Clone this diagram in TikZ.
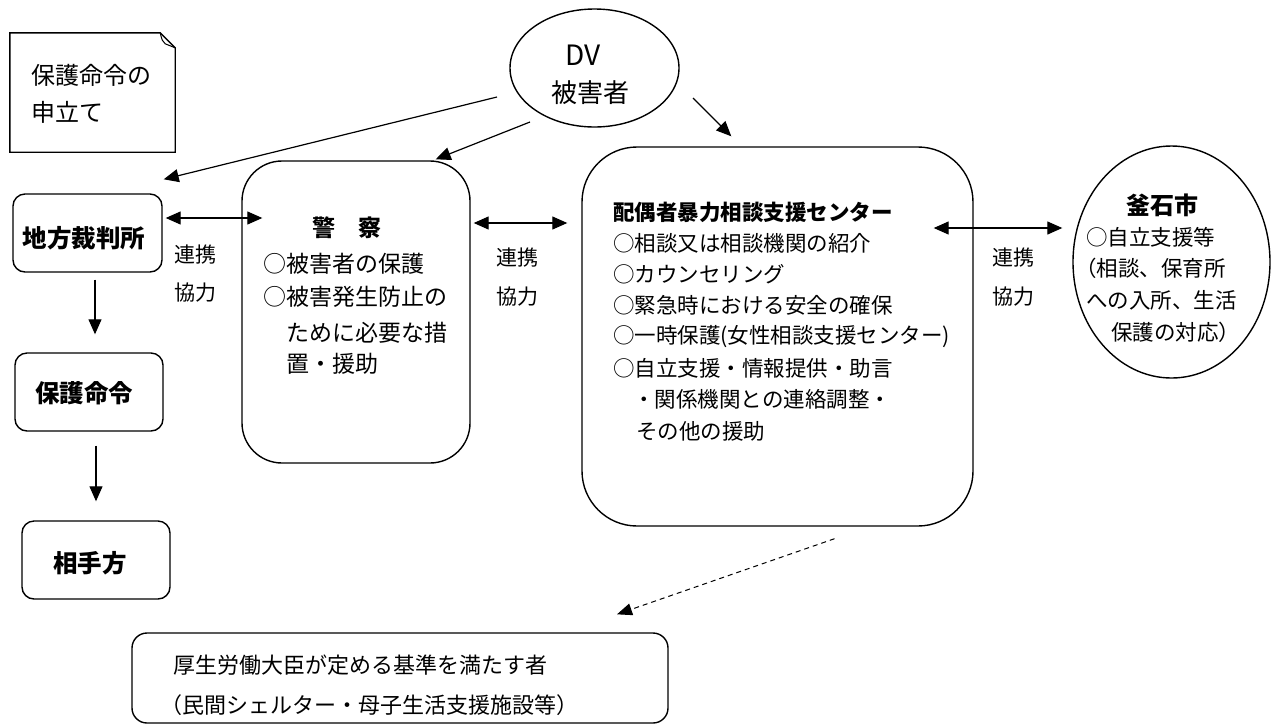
\documentclass[tikz,border=0pt]{standalone}
\usepackage{fontspec}
\setmainfont{Noto Sans CJK JP}
\usetikzlibrary{arrows.meta,calc,shapes.geometric}
\begin{document}
\begin{tikzpicture}[x=1pt,y=-1pt,
  box/.style={draw,line width=1.4pt,rounded corners=#1,inner sep=0},
  tip/.style={-{Triangle[length=15pt,width=13pt]}},
  arr/.style={line width=1.2pt,tip},
  darr/.style={line width=1.2pt,{Triangle[length=15pt,width=13pt]}-{Triangle[length=15pt,width=13pt]}},
  dsh/.style={line width=1pt,dash pattern=on 5pt off 4pt,-{Triangle[length=15pt,width=12pt]}},
  tx/.style={inner sep=0,anchor=west,font=\fontsize{#1}{#1}\selectfont},
  tc/.style={inner sep=0,font=\fontsize{#1}{#1}\selectfont},
  tb/.style={inner sep=0,font=\bfseries\fontsize{#1}{#1}\selectfont},
]
\useasboundingbox (0,0) rectangle (1279,724);
\fill[white] (0,0) rectangle (1279,724);

% note
\node[minimum width=165pt,minimum height=119pt,inner sep=0] (note) at (92.5,92.5) {};
\draw[line width=1.4pt] (note.south west) -- (note.north west) -- ($(note.north east)+(-15,0)$)
  -- ($(note.north east)+(0,15)$) -- (note.south east) -- cycle;
\draw[line width=1pt] ($(note.north east)+(-15,0)$) .. controls ($(note.north east)+(-13,8)$) .. ($(note.north east)+(-10,11)$) -- ($(note.north east)+(0,15)$);
\node[tx=24] (notet1) at (31,75) {保護命令の};
\node[tx=24] (notet2) at (31,112) {申立て};

% DV ellipse
\node[draw,ellipse,line width=1.4pt,minimum width=169pt,minimum height=118pt,inner sep=0] (dv) at (594.5,68) {};
\node[tc=28] (dvt1) at (583,55) {DV};
\node[tc=26] (dvt2) at (590,93) {被害者};

% left column
\node[box=12pt,minimum width=149pt,minimum height=78pt] (court) at (87.5,233) {};
\node[tb=24.5] (courtt) at (84,238) {地方裁判所};
\node[box=12pt,minimum width=148pt,minimum height=78pt] (order) at (89,392) {};
\node[tb=24.5] (ordert) at (84,393) {保護命令};
\node[box=12pt,minimum width=148pt,minimum height=78pt] (opp) at (96,560) {};
\node[tb=24.5] (oppt) at (90,563) {相手方};

% police
\node[box=40pt,minimum width=228pt,minimum height=302pt] (police) at (356,312) {};
\node[tb=23] (policet) at (347,228) {警　察};
\node[tx=23] (p1) at (263,264) {○被害者の保護};
\node[tx=23] (p2) at (263,297) {○被害発生防止の};
\node[tx=23] (p3) at (286,333) {ために必要な措};
\node[tx=23] (p4) at (286,364) {置・援助};

% center
\node[box=55pt,minimum width=391pt,minimum height=379pt] (center) at (777.5,336.5) {};
\node[tb=21.5,anchor=west] (ct) at (613,212) {配偶者暴力相談支援センター};
\node[tx=21.5] (c1) at (613,243) {○相談又は相談機関の紹介};
\node[tx=21.5] (c2) at (613,274) {○カウンセリング};
\node[tx=21.5] (c3) at (613,305) {○緊急時における安全の確保};
\node[tx=21.5] (c4) at (613,337) {○一時保護(女性相談支援センター)};
\node[tx=21.5] (c5) at (613,368) {○自立支援・情報提供・助言};
\node[tx=21.5] (c6) at (633,399) {・関係機関との連絡調整・};
\node[tx=21.5] (c7) at (636,431) {その他の援助};

% city
\node[draw,ellipse,line width=1.4pt,minimum width=197pt,minimum height=232pt,inner sep=0] (city) at (1171.5,262) {};
\node[tb=24] (cityt) at (1162,205) {釜石市};
\node[tx=21.5] (k1) at (1086,237) {○自立支援等};
\node[tx=21.5] (k2) at (1075,268) {（相談、保育所};
\node[tx=21.5] (k3) at (1086,300) {への入所、生活};
\node[tx=21.5] (k4) at (1111,332) {保護の対応）};

% labels
\node[tx=21] (l1a) at (174,255) {連携};
\node[tx=21] (l1b) at (174,293) {協力};
\node[tx=21] (l2a) at (496,258) {連携};
\node[tx=21] (l2b) at (496,297) {協力};
\node[tx=21] (l3a) at (992,258) {連携};
\node[tx=21] (l3b) at (992,297) {協力};

% bottom box
\node[box=15pt,minimum width=536pt,minimum height=90pt] (shelter) at (400,678) {};
\node[tx=22] (s1) at (173,665) {厚生労働大臣が定める基準を満たす者};
\node[tx=22] (s2) at (160,705) {（民間シェルター・母子生活支援施設等）};

% connectors
\draw[arr] ($(dv.center)+(-97.5,29)$) -- ($(court.north east)+(1,-14)$);
\draw[arr] ($(dv.center)+(-64.5,54)$) -- ($(police.north east)+(-35,-1)$);
\draw[arr] ($(dv.center)+(98.5,30)$) -- ($(center.north west)+(150,-10)$);
\draw[darr] ($(court.east)+(3,-15)$) -- ($(police.west)+(21,-94)$);
\draw[darr] ($(police.east)+(3,-89)$) -- ($(center.west)+(-14,-113.5)$);
\draw[darr] ($(center.east)+(-40,-108.5)$) -- ($(city.west)+(-10,-34)$);
\draw[arr] ($(court.south)+(7.5,7)$) -- ($(order.north)+(6,-18)$);
\draw[arr] ($(order.south)+(7,14)$) -- ($(opp.north)+(0,-19)$);
\draw[dsh] ($(center.south)+(57,12)$) -- ($(shelter.north)+(217,-18)$);
\end{tikzpicture}
\end{document}
